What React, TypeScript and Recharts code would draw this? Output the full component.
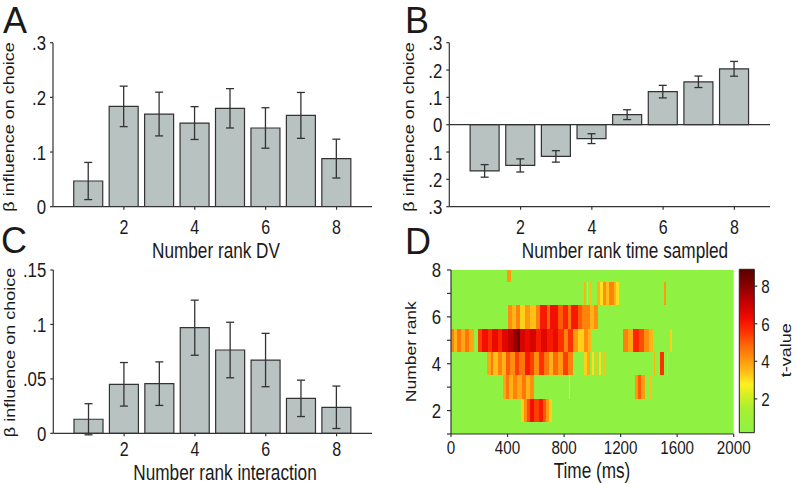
import React from "react";
import {
  Bar,
  BarChart,
  ComposedChart,
  ErrorBar,
  ReferenceArea,
  ReferenceLine,
  Scatter,
  XAxis,
  YAxis,
} from "recharts";

// ---- data ----
const ranks = [1, 2, 3, 4, 5, 6, 7, 8];
const rankTicks = [2, 4, 6, 8];

// A: number rank DV
const dvBeta = [0.047, 0.1835, 0.1695, 0.153, 0.18, 0.144, 0.167, 0.088];
const dvSem = [0.034, 0.037, 0.04, 0.03, 0.036, 0.037, 0.042, 0.0355];
const dvTicks = [0, 0.1, 0.2, 0.3];

// B: number rank time sampled
const timeBeta = [-0.169, -0.149, -0.116, -0.051, 0.0367, 0.121, 0.157, 0.2045];
const timeSem = [0.023, 0.024, 0.021, 0.018, 0.018, 0.023, 0.021, 0.027];
const timeBetaTicks = [-0.3, -0.2, -0.1, 0, 0.1, 0.2, 0.3];

// C: number rank interaction
const interBeta = [0.0129, 0.045, 0.0456, 0.097, 0.0765, 0.0673, 0.0321, 0.0239];
const interSem = [0.0143, 0.02, 0.02, 0.0253, 0.0255, 0.0245, 0.0167, 0.0195];
const interTicks = [0, 0.05, 0.1, 0.15];

// D: t-value runs per rank, [start ms, end ms, t]
const rank8Cells = [[398, 425, 4.0]];
const rank7Cells = [
  [940, 952, 3.6], [962, 972, 3.0], [985, 995, 3.4], [1030, 1055, 3.6], [1055, 1075, 3.0],
  [1075, 1100, 4.2], [1100, 1120, 3.4], [1120, 1150, 4.4], [1150, 1165, 3.6], [1165, 1190, 3.0],
  [1506, 1524, 4.0],
];
const rank6Cells = [
  [400, 430, 4.2], [430, 460, 3.6], [460, 490, 4.4], [490, 520, 3.2], [520, 560, 4.0],
  [560, 600, 3.4], [600, 630, 4.4], [630, 680, 6.0], [680, 700, 4.8], [700, 760, 6.2],
  [760, 790, 5.0], [790, 830, 5.8], [830, 850, 4.6], [850, 900, 6.0], [900, 930, 5.0],
  [930, 980, 4.4], [980, 1010, 3.6], [1010, 1040, 4.2],
];
const rank5Cells = [
  [0, 20, 4.4], [20, 40, 3.6], [40, 70, 4.6], [70, 100, 3.8], [100, 130, 4.6], [130, 165, 3.8],
  [190, 220, 5.4], [220, 260, 6.2], [260, 290, 5.6], [290, 330, 6.4], [330, 360, 5.8],
  [360, 400, 6.6], [400, 440, 7.2], [440, 465, 7.8], [465, 490, 8.6], [490, 520, 6.8],
  [520, 560, 6.4], [560, 600, 6.8], [600, 640, 6.0], [640, 680, 6.6], [680, 720, 6.0],
  [720, 760, 6.4], [760, 800, 5.6], [800, 830, 4.4], [830, 860, 5.6], [860, 900, 4.0],
  [900, 940, 3.2], [940, 970, 4.2], [970, 990, 3.6],
  [1215, 1250, 4.4], [1250, 1290, 3.8], [1290, 1330, 5.8], [1330, 1365, 5.2],
  [1365, 1400, 4.2], [1400, 1430, 3.6], [1550, 1560, 3.2],
];
const rank4Cells = [
  [255, 280, 3.8], [280, 300, 4.6], [300, 330, 3.4], [330, 360, 4.4], [360, 390, 3.6],
  [390, 420, 5.0], [420, 450, 4.2], [450, 480, 5.4], [480, 520, 4.6], [520, 560, 6.0],
  [560, 590, 5.4], [590, 620, 4.2], [620, 660, 5.6], [660, 690, 4.6], [690, 720, 3.6],
  [720, 760, 4.8], [760, 790, 4.0], [790, 830, 5.4], [830, 860, 4.4],
  [940, 960, 3.2], [965, 985, 3.8], [995, 1010, 3.0], [1020, 1040, 3.4], [1050, 1060, 3.0],
  [1075, 1090, 3.4], [1435, 1445, 3.6], [1480, 1505, 5.6], [1530, 1538, 3.2],
];
const rank3Cells = [
  [368, 390, 3.8], [390, 410, 4.6], [410, 440, 3.6], [440, 470, 4.4], [470, 500, 3.8],
  [500, 530, 4.6], [530, 560, 3.6], [560, 585, 4.2], [833, 840, 2.8],
  [1305, 1320, 4.0], [1320, 1345, 5.0], [1345, 1370, 4.0], [1410, 1418, 3.4],
];
const rank2Cells = [
  [495, 515, 3.2], [515, 535, 4.2], [535, 560, 5.2], [560, 590, 6.2], [590, 620, 5.4],
  [620, 650, 6.0], [650, 675, 5.0], [675, 695, 4.0], [695, 712, 3.2],
];
const heatRows = [
  { rank: 8, cells: rank8Cells },
  { rank: 7, cells: rank7Cells },
  { rank: 6, cells: rank6Cells },
  { rank: 5, cells: rank5Cells },
  { rank: 4, cells: rank4Cells },
  { rank: 3, cells: rank3Cells },
  { rank: 2, cells: rank2Cells },
];
const timeTicks = [0, 400, 800, 1200, 1600, 2000];
const heatRankTicks = [1, 2, 3, 4, 5, 6, 7, 8];
const tDomain = [0.2, 8.9];
const tTicks = [2, 4, 6, 8];

// colour map (t -> colour)
const tStops: [number, string][] = [
  [0.2, "#8ff242"],
  [1.5, "#a9f032"],
  [2.2, "#d6ee22"],
  [2.8, "#fff020"],
  [3.3, "#ffc818"],
  [4.0, "#ff9a10"],
  [4.8, "#ff6a08"],
  [5.6, "#ff3000"],
  [6.3, "#f00a00"],
  [7.2, "#c20000"],
  [8.0, "#8a0000"],
  [8.9, "#5a0000"],
];

const FONT = '"Liberation Sans", Arial, sans-serif';
const INK = "#1a1a1a";
const BAR_FILL = "#b8c2c1";
const AXIS_LINE = { stroke: "#333", strokeWidth: 1.2 };
const TICK_LINE = { stroke: "#333", strokeWidth: 1.2 };
const SQUEEZE = 0.8;

function hexRgb(h: string) {
  return [1, 3, 5].map((i) => parseInt(h.slice(i, i + 2), 16));
}

function heat(t: number) {
  if (t <= tStops[0][0]) return tStops[0][1];
  for (let i = 1; i < tStops.length; i++) {
    const [t1, c1] = tStops[i];
    const [t0, c0] = tStops[i - 1];
    if (t <= t1) {
      const f = (t - t0) / (t1 - t0);
      const a = hexRgb(c0);
      const b = hexRgb(c1);
      const m = a.map((v, k) => Math.round(v + (b[k] - v) * f));
      return `rgb(${m[0]},${m[1]},${m[2]})`;
    }
  }
  return tStops[tStops.length - 1][1];
}

const betaFmt = (v: number) =>
  v === 0 ? "0" : String(Math.abs(Number(v.toFixed(3)))).replace(/^0/, "");

const noDot = () => <g />;

// tick text, squeezed horizontally like the original artwork
function SqTick(props: any) {
  const { x, y, payload, textAnchor, verticalAnchor, fmt, fontSize = 21, show } = props;
  if (show && !show(payload.value)) return <g />;
  const dy = verticalAnchor === "start" ? "0.71em" : verticalAnchor === "end" ? "0" : "0.355em";
  return (
    <text
      transform={`translate(${x},${y}) scale(${SQUEEZE},1)`}
      textAnchor={textAnchor}
      dy={dy}
      fontSize={fontSize}
      fontFamily={FONT}
      fill={INK}
    >
      {fmt ? fmt(payload.value) : payload.value}
    </text>
  );
}

function BetaPanel({ x, y, w, h, plotLeft, plotTop, plotRight, plotBottom, beta, sem, domain, ticks, zeroLine, tickGap = 10 }: any) {
  const rows = ranks.map((r, i) => ({ rank: r, beta: beta[i], sem: sem[i] }));
  const axisH = 40;
  return (
    <div style={{ position: "absolute", left: x, top: y }}>
      <BarChart
        width={w}
        height={h}
        data={rows}
        margin={{ top: plotTop - y, left: 0, right: x + w - plotRight, bottom: y + h - plotBottom - axisH }}
      >
        <XAxis
          type="number"
          dataKey="rank"
          domain={[0, 9]}
          ticks={rankTicks}
          allowDataOverflow
          height={axisH}
          tickSize={3}
          tickMargin={tickGap}
          axisLine={AXIS_LINE}
          tickLine={TICK_LINE}
          tick={(p: any) => <SqTick {...p} fontSize={20} />}
        />
        <YAxis
          type="number"
          domain={domain}
          ticks={ticks}
          allowDataOverflow
          width={plotLeft - x}
          tickSize={3}
          tickMargin={4}
          axisLine={AXIS_LINE}
          tickLine={TICK_LINE}
          tick={(p: any) => <SqTick {...p} fmt={betaFmt} />}
        />
        {zeroLine && <ReferenceLine y={0} stroke="#333" strokeWidth={1.2} />}
        <Bar dataKey="beta" fill={BAR_FILL} stroke="#333" strokeWidth={1.2} barSize={29} isAnimationActive={false}>
          <ErrorBar dataKey="sem" width={4} stroke="#333" strokeWidth={1.3} direction="y" />
        </Bar>
      </BarChart>
    </div>
  );
}

function HeatPanel() {
  // cell centres give the chart its data; the cells themselves are ReferenceAreas
  const centres = heatRows.flatMap((row) =>
    row.cells.map(([t0, t1]) => ({ time: (t0 + t1) / 2, rank: row.rank }))
  );
  return (
    <div style={{ position: "absolute", left: 396, top: 240 }}>
      <ComposedChart width={400} height={244} data={centres} margin={{ top: 30, left: 0, right: 62.3, bottom: 10 }}>
        <XAxis
          type="number"
          dataKey="time"
          domain={[0, 2000]}
          ticks={timeTicks}
          allowDataOverflow
          height={40}
          tickSize={3}
          tickMargin={4}
          axisLine={AXIS_LINE}
          tickLine={TICK_LINE}
          tick={(p: any) => <SqTick {...p} fontSize={19} />}
        />
        <YAxis
          type="number"
          dataKey="rank"
          domain={[1, 8]}
          ticks={heatRankTicks}
          allowDataOverflow
          width={55}
          tickSize={4}
          tickMargin={6}
          axisLine={AXIS_LINE}
          tickLine={TICK_LINE}
          tick={(p: any) => <SqTick {...p} show={(v: number) => v % 2 === 0} />}
        />
        <ReferenceArea x1={0} x2={2000} y1={1} y2={8} fill={heat(0)} fillOpacity={1} stroke="none" />
        {heatRows.map((row) =>
          row.cells.map(([t0, t1, t], i) => (
            <ReferenceArea
              key={`${row.rank}-${i}`}
              x1={t0}
              x2={t1}
              y1={Math.max(1, row.rank - 0.5)}
              y2={Math.min(8, row.rank + 0.5)}
              fill={heat(t)}
              fillOpacity={1}
              stroke="none"
              shapeRendering="crispEdges"
            />
          ))
        )}
        <Scatter dataKey="rank" shape={noDot} isAnimationActive={false} />
      </ComposedChart>
    </div>
  );
}

function ColorBar() {
  const span = tDomain[1] - tDomain[0];
  const stops = [...tStops].reverse();
  const pts = tStops.map(([t]) => ({ pos: 0.5, t }));
  return (
    <div style={{ position: "absolute", left: 730, top: 240 }}>
      <ComposedChart width={66} height={244} data={pts} margin={{ top: 29.3, left: 9.3, right: 0, bottom: 51.3 }}>
        <defs>
          <linearGradient id="tmap" x1="0" y1="0" x2="0" y2="1">
            {stops.map(([t, c]) => (
              <stop key={t} offset={(tDomain[1] - t) / span} stopColor={c} />
            ))}
          </linearGradient>
        </defs>
        <XAxis type="number" dataKey="pos" domain={[0, 1]} hide allowDataOverflow />
        <YAxis
          orientation="right"
          type="number"
          dataKey="t"
          domain={tDomain}
          ticks={tTicks}
          allowDataOverflow
          width={41.7}
          tickSize={3}
          tickMargin={4}
          axisLine={false}
          tickLine={TICK_LINE}
          tick={(p: any) => <SqTick {...p} fontSize={19} />}
        />
        <ReferenceArea x1={0} x2={1} y1={tDomain[0]} y2={tDomain[1]} fill="url(#tmap)" fillOpacity={1} stroke="#222" strokeWidth={1} />
        <Scatter dataKey="t" shape={noDot} isAnimationActive={false} />
      </ComposedChart>
    </div>
  );
}

function HText({ x, y, children, size = 21.5 }: any) {
  return (
    <text transform={`translate(${x},${y}) scale(${SQUEEZE},1)`} textAnchor="middle" fontSize={size} fill={INK}>
      {children}
    </text>
  );
}

function VText({ x, y, children, size = 18 }: any) {
  return (
    <text transform={`translate(${x},${y}) scale(${SQUEEZE},1) rotate(-90)`} textAnchor="middle" fontSize={size} fill={INK}>
      {children}
    </text>
  );
}

export default function App() {
  return (
    <div style={{ position: "absolute", left: 0, top: 0, width: 796, height: 484, background: "#fff", fontFamily: FONT }}>
      <BetaPanel
        x={0} y={0} w={396} h={260}
        plotLeft={53} plotTop={42.7} plotRight={372} plotBottom={206.7}
        beta={dvBeta} sem={dvSem} domain={[0, 0.3]} ticks={dvTicks}
      />
      <BetaPanel
        x={396} y={0} w={400} h={260}
        plotLeft={449.3} plotTop={42.7} plotRight={770} plotBottom={206.7}
        beta={timeBeta} sem={timeSem} domain={[-0.3, 0.3]} ticks={timeBetaTicks} zeroLine
      />
      <BetaPanel
        x={0} y={240} w={396} h={244}
        plotLeft={53.3} plotTop={270} plotRight={372} plotBottom={433.3}
        beta={interBeta} sem={interSem} domain={[0, 0.15]} ticks={interTicks} tickGap={5}
      />
      <HeatPanel />
      <ColorBar />
      <svg
        width={796}
        height={484}
        style={{ position: "absolute", left: 0, top: 0, pointerEvents: "none" }}
        fontFamily={FONT}
      >
        <text x={3} y={33} fontSize={36} fill={INK}>A</text>
        <text x={405} y={33} fontSize={36} fill={INK}>B</text>
        <text x={1} y={253} fontSize={36} fill={INK}>C</text>
        <text x={405} y={254} fontSize={36} fill={INK}>D</text>

        <HText x={216} y={257.5}>Number rank DV</HText>
        <HText x={625} y={257.5}>Number rank time sampled</HText>
        <HText x={225} y={480}>Number rank interaction</HText>
        <HText x={592} y={478}>Time (ms)</HText>

        <VText x={14.4} y={127}>β influence on choice</VText>
        <VText x={413.7} y={127}>β influence on choice</VText>
        <VText x={14.5} y={352.5}>β influence on choice</VText>
        <VText x={416} y={351.7} size={17.5}>Number rank</VText>
        <VText x={790.5} y={350.3}>t-value</VText>
      </svg>
    </div>
  );
}
